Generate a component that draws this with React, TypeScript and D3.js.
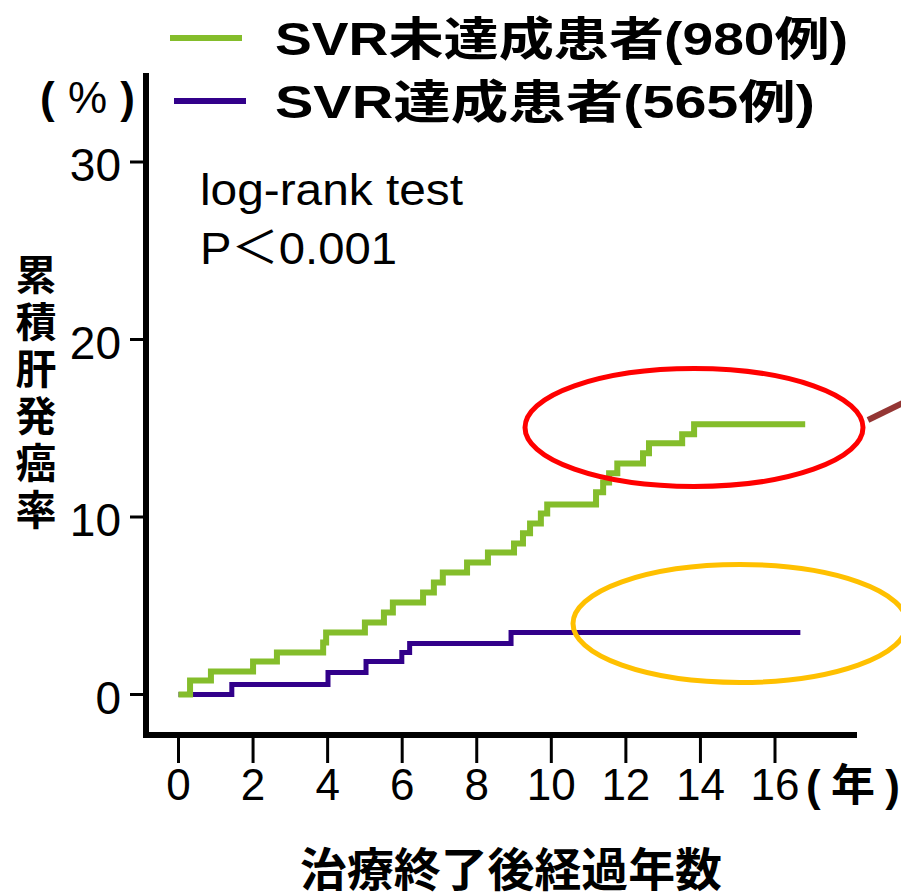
import React from 'react';
import * as d3 from 'd3';

const xTickYears = [0, 2, 4, 6, 8, 10, 12, 14, 16];
const yTickValues = [0, 10, 20, 30];

const nonSvrTime = [0, 0.31, 0.87, 2.0, 2.64, 3.88, 3.96, 5.0, 5.51, 5.75, 6.56, 6.85, 7.09, 7.74, 8.3, 9.0, 9.24, 9.43, 9.72, 9.89, 11.2, 11.39, 11.55, 11.77, 12.46, 12.62, 13.51, 13.83, 16.81];
const nonSvrRate = [0, 0.79, 1.3, 1.86, 2.37, 2.93, 3.49, 4.06, 4.62, 5.19, 5.75, 6.31, 6.88, 7.44, 8.0, 8.51, 9.08, 9.64, 10.2, 10.71, 11.39, 11.95, 12.46, 13.02, 13.59, 14.15, 14.66, 15.22, 15.22];

const svrTime = [0, 1.43, 4.01, 5.03, 5.99, 6.2, 8.92, 16.68];
const svrRate = [0, 0.56, 1.24, 1.86, 2.37, 2.87, 3.49, 3.49];

const legendLabels = ['SVR未達成患者(980例)', 'SVR達成患者(565例)'];
const seriesColors = ['#84BD2B', '#32008A'];

const LATIN = '"Liberation Sans", Arial, sans-serif';
const MIX = '"Liberation Sans", "Noto Sans CJK JP", sans-serif';
const CJK = '"Noto Sans CJK JP", sans-serif';

export default function App() {
  const x = d3.scaleLinear().domain([0, 16]).range([178.5, 775]);
  const y = d3.scaleLinear().domain([0, 30]).range([694.5, 162]);
  const line = d3
    .line<[number, number]>()
    .x((d) => x(d[0]))
    .y((d) => y(d[1]))
    .curve(d3.curveStepAfter);

  const nonSvr: [number, number][] = nonSvrTime.map((t, i) => [t, nonSvrRate[i]]);
  const svr: [number, number][] = svrTime.map((t, i) => [t, svrRate[i]]);

  const axisX = 146;
  const axisY = 735;

  return (
    <svg
      width={901}
      height={894}
      viewBox="0 0 901 894"
      style={{ position: 'absolute', left: 0, top: 0, background: '#fff' }}
    >
      <rect x={0} y={0} width={901} height={894} fill="#fff" />

      {/* Legend */}
      <line x1={170} x2={242} y1={38} y2={38} stroke={seriesColors[0]} strokeWidth={6} />
      <line x1={174} x2={246} y1={101} y2={101} stroke={seriesColors[1]} strokeWidth={6} />
      <text x={275} y={55} fontFamily={MIX} fontWeight="bold" fontSize={46} textLength={573} lengthAdjust="spacingAndGlyphs">
        {legendLabels[0]}
      </text>
      <text x={275} y={118} fontFamily={MIX} fontWeight="bold" fontSize={46} textLength={540} lengthAdjust="spacingAndGlyphs">
        {legendLabels[1]}
      </text>

      {/* (%) */}
      <text x={40} y={113} fontFamily={LATIN} fontWeight="bold" fontSize={44} textLength={95} lengthAdjust="spacing">
        (<tspan fontWeight="normal">%</tspan>)
      </text>

      {/* Y axis */}
      <line x1={axisX} x2={axisX} y1={73} y2={axisY + 3} stroke="#000" strokeWidth={6} />
      {yTickValues.map((v) => (
        <g key={v}>
          <line x1={130} x2={axisX} y1={y(v)} y2={y(v)} stroke="#000" strokeWidth={3} />
          <text x={121} y={y(v) + 3} fontFamily={LATIN} fontSize={46} textAnchor="end" dominantBaseline="central">
            {v}
          </text>
        </g>
      ))}

      {/* Y title (vertical) */}
      <text
        x={36}
        y={254}
        fontFamily={CJK}
        fontWeight="bold"
        fontSize={41}
        letterSpacing={6}
        style={{ writingMode: 'vertical-rl' }}
      >
        累積肝発癌率
      </text>

      {/* X axis */}
      <line x1={axisX - 3} x2={857} y1={axisY} y2={axisY} stroke="#000" strokeWidth={6} />
      {xTickYears.map((t) => (
        <g key={t}>
          <line x1={x(t)} x2={x(t)} y1={axisY} y2={763} stroke="#000" strokeWidth={3} />
          <text x={x(t)} y={784} fontFamily={LATIN} fontSize={44} textAnchor="middle" dominantBaseline="central">
            {t}
          </text>
        </g>
      ))}
      <text x={806} y={801} fontFamily={MIX} fontWeight="bold" fontSize={44} textLength={94} lengthAdjust="spacing">
        (年)
      </text>
      <text x={511} y={866} fontFamily={CJK} fontWeight="bold" fontSize={46} textAnchor="middle" dominantBaseline="central" textLength={422} lengthAdjust="spacingAndGlyphs">
        治療終了後経過年数
      </text>

      {/* Annotation */}
      <text x={200} y={205} fontFamily={LATIN} fontSize={45} textLength={263} lengthAdjust="spacingAndGlyphs">log-rank test</text>
      <text x={200} y={264} fontFamily={MIX} fontSize={45} textLength={197} lengthAdjust="spacingAndGlyphs">P＜0.001</text>

      {/* Curves */}
      <path d={line(svr) || ''} fill="none" stroke={seriesColors[1]} strokeWidth={5} />
      <path d={line(nonSvr) || ''} fill="none" stroke={seriesColors[0]} strokeWidth={6} />

      {/* Highlight ellipses */}
      <ellipse cx={694} cy={427.5} rx={169} ry={59} fill="none" stroke="#FF0000" strokeWidth={5} />
      <ellipse cx={740} cy={623.5} rx={167} ry={59} fill="none" stroke="#FFC000" strokeWidth={5} />
      <line x1={868} y1={420} x2={905} y2={402} stroke="#943634" strokeWidth={6} />
    </svg>
  );
}
